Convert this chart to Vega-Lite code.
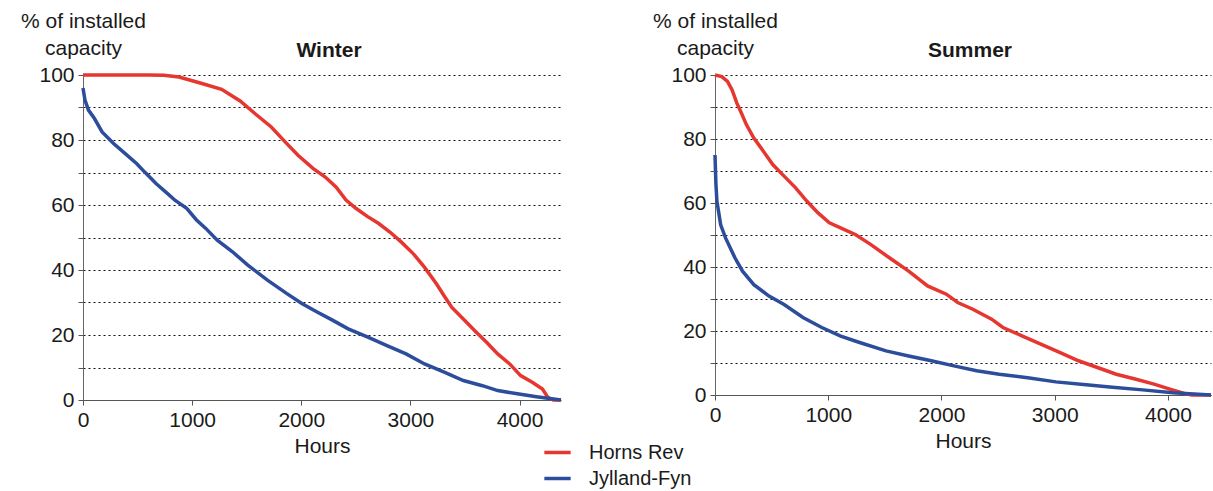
{
  "$schema": "https://vega.github.io/schema/vega-lite/v6.json",
  "padding": {"left": 20, "top": 10, "right": 0, "bottom": 0},
  "spacing": 84,
  "config": {
    "font": "Liberation Sans",
    "view": {"stroke": null},
    "axis": {"labelFontSize": 21, "titleFontSize": 21, "titleFontWeight": "normal", "labelColor": "#1a1a1a", "titleColor": "#1a1a1a", "domainColor": "#555", "tickColor": "#555", "tickSize": 5},
    "line": {"strokeWidth": 3.5}
  },
  "datasets": {
    "winter": [
      {"h": 0, "v": 100, "s": "Horns Rev"}, {"h": 300, "v": 100, "s": "Horns Rev"}, {"h": 600, "v": 100, "s": "Horns Rev"}, {"h": 740, "v": 99.9, "s": "Horns Rev"}, {"h": 880, "v": 99.4, "s": "Horns Rev"}, {"h": 1090, "v": 97.4, "s": "Horns Rev"}, {"h": 1270, "v": 95.6, "s": "Horns Rev"}, {"h": 1440, "v": 92, "s": "Horns Rev"}, {"h": 1580, "v": 88, "s": "Horns Rev"}, {"h": 1725, "v": 84, "s": "Horns Rev"}, {"h": 1850, "v": 79.5, "s": "Horns Rev"}, {"h": 1970, "v": 75.3, "s": "Horns Rev"}, {"h": 2110, "v": 71.2, "s": "Horns Rev"}, {"h": 2220, "v": 68.6, "s": "Horns Rev"}, {"h": 2320, "v": 65.5, "s": "Horns Rev"}, {"h": 2410, "v": 61.5, "s": "Horns Rev"}, {"h": 2500, "v": 59, "s": "Horns Rev"}, {"h": 2605, "v": 56.5, "s": "Horns Rev"}, {"h": 2710, "v": 54.3, "s": "Horns Rev"}, {"h": 2815, "v": 51.6, "s": "Horns Rev"}, {"h": 2920, "v": 48.5, "s": "Horns Rev"}, {"h": 3030, "v": 44.9, "s": "Horns Rev"}, {"h": 3130, "v": 40.8, "s": "Horns Rev"}, {"h": 3240, "v": 35.7, "s": "Horns Rev"}, {"h": 3310, "v": 32, "s": "Horns Rev"}, {"h": 3380, "v": 28.5, "s": "Horns Rev"}, {"h": 3485, "v": 24.9, "s": "Horns Rev"}, {"h": 3590, "v": 21.3, "s": "Horns Rev"}, {"h": 3700, "v": 17.7, "s": "Horns Rev"}, {"h": 3800, "v": 14.2, "s": "Horns Rev"}, {"h": 3910, "v": 11.1, "s": "Horns Rev"}, {"h": 4010, "v": 7.5, "s": "Horns Rev"}, {"h": 4120, "v": 5.4, "s": "Horns Rev"}, {"h": 4210, "v": 3.4, "s": "Horns Rev"}, {"h": 4260, "v": 0.8, "s": "Horns Rev"}, {"h": 4310, "v": 0, "s": "Horns Rev"}, {"h": 4380, "v": 0, "s": "Horns Rev"},
      {"h": 0, "v": 96, "s": "Jylland-Fyn"}, {"h": 18, "v": 92.3, "s": "Jylland-Fyn"}, {"h": 50, "v": 89.2, "s": "Jylland-Fyn"}, {"h": 105, "v": 86.6, "s": "Jylland-Fyn"}, {"h": 175, "v": 82.5, "s": "Jylland-Fyn"}, {"h": 280, "v": 78.9, "s": "Jylland-Fyn"}, {"h": 387, "v": 75.8, "s": "Jylland-Fyn"}, {"h": 493, "v": 72.7, "s": "Jylland-Fyn"}, {"h": 563, "v": 70.2, "s": "Jylland-Fyn"}, {"h": 669, "v": 66.6, "s": "Jylland-Fyn"}, {"h": 775, "v": 63.5, "s": "Jylland-Fyn"}, {"h": 845, "v": 61.4, "s": "Jylland-Fyn"}, {"h": 950, "v": 59, "s": "Jylland-Fyn"}, {"h": 1040, "v": 55.4, "s": "Jylland-Fyn"}, {"h": 1125, "v": 52.8, "s": "Jylland-Fyn"}, {"h": 1230, "v": 49.2, "s": "Jylland-Fyn"}, {"h": 1370, "v": 45.6, "s": "Jylland-Fyn"}, {"h": 1510, "v": 41.5, "s": "Jylland-Fyn"}, {"h": 1690, "v": 36.9, "s": "Jylland-Fyn"}, {"h": 1865, "v": 32.8, "s": "Jylland-Fyn"}, {"h": 2005, "v": 29.7, "s": "Jylland-Fyn"}, {"h": 2145, "v": 27.1, "s": "Jylland-Fyn"}, {"h": 2290, "v": 24.5, "s": "Jylland-Fyn"}, {"h": 2430, "v": 21.9, "s": "Jylland-Fyn"}, {"h": 2605, "v": 19.4, "s": "Jylland-Fyn"}, {"h": 2780, "v": 16.8, "s": "Jylland-Fyn"}, {"h": 2960, "v": 14.2, "s": "Jylland-Fyn"}, {"h": 3130, "v": 11.1, "s": "Jylland-Fyn"}, {"h": 3310, "v": 8.6, "s": "Jylland-Fyn"}, {"h": 3485, "v": 6, "s": "Jylland-Fyn"}, {"h": 3660, "v": 4.4, "s": "Jylland-Fyn"}, {"h": 3800, "v": 2.9, "s": "Jylland-Fyn"}, {"h": 3980, "v": 1.9, "s": "Jylland-Fyn"}, {"h": 4155, "v": 1, "s": "Jylland-Fyn"}, {"h": 4380, "v": 0, "s": "Jylland-Fyn"}
    ],
    "summer": [
      {"h": 0, "v": 100, "s": "Horns Rev"}, {"h": 60, "v": 99.5, "s": "Horns Rev"}, {"h": 110, "v": 98, "s": "Horns Rev"}, {"h": 150, "v": 95.4, "s": "Horns Rev"}, {"h": 193, "v": 91.2, "s": "Horns Rev"}, {"h": 227, "v": 88.6, "s": "Horns Rev"}, {"h": 277, "v": 84.5, "s": "Horns Rev"}, {"h": 343, "v": 80.3, "s": "Horns Rev"}, {"h": 427, "v": 76.2, "s": "Horns Rev"}, {"h": 510, "v": 72, "s": "Horns Rev"}, {"h": 610, "v": 68.4, "s": "Horns Rev"}, {"h": 710, "v": 64.8, "s": "Horns Rev"}, {"h": 810, "v": 60.6, "s": "Horns Rev"}, {"h": 910, "v": 56.9, "s": "Horns Rev"}, {"h": 1010, "v": 53.8, "s": "Horns Rev"}, {"h": 1143, "v": 51.7, "s": "Horns Rev"}, {"h": 1243, "v": 50.1, "s": "Horns Rev"}, {"h": 1377, "v": 47, "s": "Horns Rev"}, {"h": 1543, "v": 42.8, "s": "Horns Rev"}, {"h": 1710, "v": 38.7, "s": "Horns Rev"}, {"h": 1877, "v": 34.1, "s": "Horns Rev"}, {"h": 2043, "v": 31.5, "s": "Horns Rev"}, {"h": 2143, "v": 28.9, "s": "Horns Rev"}, {"h": 2277, "v": 26.8, "s": "Horns Rev"}, {"h": 2443, "v": 23.7, "s": "Horns Rev"}, {"h": 2543, "v": 21.1, "s": "Horns Rev"}, {"h": 2710, "v": 18.5, "s": "Horns Rev"}, {"h": 2877, "v": 15.9, "s": "Horns Rev"}, {"h": 3043, "v": 13.3, "s": "Horns Rev"}, {"h": 3210, "v": 10.7, "s": "Horns Rev"}, {"h": 3377, "v": 8.6, "s": "Horns Rev"}, {"h": 3543, "v": 6.5, "s": "Horns Rev"}, {"h": 3710, "v": 5, "s": "Horns Rev"}, {"h": 3877, "v": 3.4, "s": "Horns Rev"}, {"h": 4010, "v": 1.9, "s": "Horns Rev"}, {"h": 4143, "v": 0.5, "s": "Horns Rev"}, {"h": 4210, "v": 0, "s": "Horns Rev"}, {"h": 4380, "v": 0, "s": "Horns Rev"},
      {"h": 0, "v": 75, "s": "Jylland-Fyn"}, {"h": 8, "v": 66, "s": "Jylland-Fyn"}, {"h": 17, "v": 60.5, "s": "Jylland-Fyn"}, {"h": 50, "v": 53.2, "s": "Jylland-Fyn"}, {"h": 93, "v": 49.1, "s": "Jylland-Fyn"}, {"h": 177, "v": 42.8, "s": "Jylland-Fyn"}, {"h": 243, "v": 38.7, "s": "Jylland-Fyn"}, {"h": 343, "v": 34.5, "s": "Jylland-Fyn"}, {"h": 477, "v": 30.9, "s": "Jylland-Fyn"}, {"h": 610, "v": 28.3, "s": "Jylland-Fyn"}, {"h": 777, "v": 24.2, "s": "Jylland-Fyn"}, {"h": 943, "v": 21.1, "s": "Jylland-Fyn"}, {"h": 1110, "v": 18.4, "s": "Jylland-Fyn"}, {"h": 1277, "v": 16.4, "s": "Jylland-Fyn"}, {"h": 1510, "v": 13.8, "s": "Jylland-Fyn"}, {"h": 1710, "v": 12.2, "s": "Jylland-Fyn"}, {"h": 1910, "v": 10.7, "s": "Jylland-Fyn"}, {"h": 2110, "v": 9.1, "s": "Jylland-Fyn"}, {"h": 2310, "v": 7.6, "s": "Jylland-Fyn"}, {"h": 2510, "v": 6.5, "s": "Jylland-Fyn"}, {"h": 2777, "v": 5.3, "s": "Jylland-Fyn"}, {"h": 3010, "v": 4.1, "s": "Jylland-Fyn"}, {"h": 3277, "v": 3.2, "s": "Jylland-Fyn"}, {"h": 3510, "v": 2.4, "s": "Jylland-Fyn"}, {"h": 3777, "v": 1.6, "s": "Jylland-Fyn"}, {"h": 4043, "v": 0.7, "s": "Jylland-Fyn"}, {"h": 4380, "v": 0, "s": "Jylland-Fyn"}
    ]
  },
  "hconcat": [
    {
      "data": {"name": "winter"},
      "width": 478,
      "height": 325,
      "title": {"text": "Winter", "fontSize": 21, "fontWeight": "bold", "frame": "group", "anchor": "middle", "offset": -51, "dx": 7, "color": "#1a1a1a"},
      "mark": {"type": "line", "strokeWidth": 3.5},
      "encoding": {
        "x": {"field": "h", "type": "quantitative", "scale": {"domain": [0, 4380], "nice": false, "zero": true},
              "axis": {"values": [0, 1000, 2000, 3000, 4000], "format": "d", "grid": false, "title": "Hours", "labelFlush": false, "labelOverlap": false, "labelPadding": 4, "titlePadding": 5}},
        "y": {"field": "v", "type": "quantitative", "scale": {"domain": [0, 100], "nice": false},
              "axis": {"values": [0, 10, 20, 30, 40, 50, 60, 70, 80, 90, 100], "labelExpr": "datum.value % 20 === 0 ? datum.label : ''", "grid": true, "gridDash": [2, 3], "gridColor": "#111", "gridWidth": 1, "title": ["% of installed", "capacity"], "titleAngle": 0, "titleAlign": "center", "titleBaseline": "alphabetic", "titleX": 0, "titleY": -48, "titleLineHeight": 27, "labelPadding": 4, "domainColor": "#666"}},
        "color": {"field": "s", "type": "nominal", "scale": {"domain": ["Horns Rev", "Jylland-Fyn"], "range": ["#e5372f", "#2c4c9c"]},
                  "legend": {"orient": "none", "legendX": 463, "legendY": 366, "title": null, "symbolType": "M-1.35,0H1.35", "symbolStrokeWidth": 4, "symbolSize": 380, "labelFontSize": 20, "labelColor": "#1a1a1a", "rowPadding": 4, "padding": 0, "labelOffset": 20}}
      }
    },
    {
      "data": {"name": "summer"},
      "width": 496,
      "height": 320,
      "title": {"text": "Summer", "fontSize": 21, "fontWeight": "bold", "frame": "group", "anchor": "middle", "offset": -51, "dx": 7, "color": "#1a1a1a"},
      "mark": {"type": "line", "strokeWidth": 3.5},
      "encoding": {
        "x": {"field": "h", "type": "quantitative", "scale": {"domain": [0, 4380], "nice": false, "zero": true},
              "axis": {"values": [0, 1000, 2000, 3000, 4000], "format": "d", "grid": false, "title": "Hours", "labelFlush": false, "labelOverlap": false, "labelPadding": 4, "titlePadding": 5}},
        "y": {"field": "v", "type": "quantitative", "scale": {"domain": [0, 100], "nice": false},
              "axis": {"values": [0, 10, 20, 30, 40, 50, 60, 70, 80, 90, 100], "labelExpr": "datum.value % 20 === 0 ? datum.label : ''", "grid": true, "gridDash": [2, 3], "gridColor": "#111", "gridWidth": 1, "title": ["% of installed", "capacity"], "titleAngle": 0, "titleAlign": "center", "titleBaseline": "alphabetic", "titleX": 0, "titleY": -48, "titleLineHeight": 27, "labelPadding": 4, "domainColor": "#666"}},
        "color": {"field": "s", "type": "nominal", "scale": {"domain": ["Horns Rev", "Jylland-Fyn"], "range": ["#e5372f", "#2c4c9c"]},
                  "legend": {"orient": "none", "legendX": 463, "legendY": 366, "title": null, "symbolType": "M-1.35,0H1.35", "symbolStrokeWidth": 4, "symbolSize": 380, "labelFontSize": 20, "labelColor": "#1a1a1a", "rowPadding": 4, "padding": 0, "labelOffset": 20}}
      }
    }
  ]
}
